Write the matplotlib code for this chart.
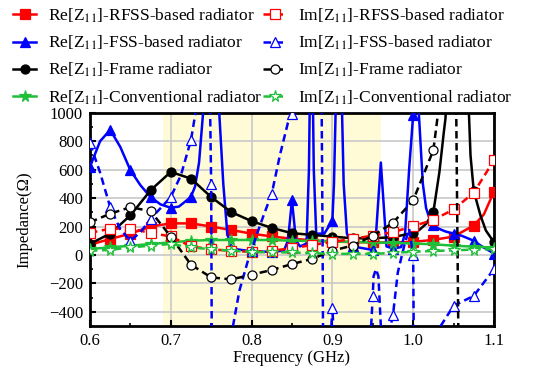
import numpy as np
import matplotlib
matplotlib.use("Agg")
import matplotlib.pyplot as plt
from matplotlib.ticker import MultipleLocator

plt.rcParams['font.family'] = ['Liberation Serif', 'DejaVu Serif']
plt.rcParams['mathtext.fontset'] = 'stix'

# ---------------- data ----------------
f_grid = [0.6, 0.625, 0.65, 0.675, 0.7, 0.725, 0.75, 0.775, 0.8, 0.825, 0.85,
          0.875, 0.9, 0.925, 0.95, 0.975, 1.0, 1.025, 1.05, 1.075, 1.1]

# RFSS-based radiator
f_rfss_re = f_grid[:-1] + [1.0875, 1.1]
re_rfss = [72, 112, 150, 200, 222, 222, 200, 175, 150, 130, 114,
           103, 95, 90, 88, 88, 92, 106, 129, 207, 285, 445]
im_rfss = [155, 185, 185, 155, 130, 60, 40, 28, 22, 30, 47,
           70, 92, 113, 136, 160, 202, 247, 320, 438, 666]

# FSS-based radiator
f_fss_re = [0.6, 0.6125, 0.625, 0.6375, 0.65, 0.6625, 0.675, 0.6875, 0.7, 0.71,
            0.72, 0.725, 0.73, 0.735, 0.74, 0.745, 0.75, 0.755, 0.76, 0.765,
            0.77, 0.775, 0.8, 0.825, 0.84, 0.845, 0.85, 0.855, 0.86, 0.868,
            0.871, 0.873, 0.875, 0.877, 0.88, 0.89, 0.9, 0.902, 0.906, 0.91,
            0.914, 0.918, 0.925, 0.95, 0.953, 0.96, 0.967, 0.975, 0.985, 0.99,
            0.995, 1.0, 1.003, 1.007, 1.012, 1.016, 1.02, 1.025, 1.032, 1.04,
            1.05, 1.06, 1.075, 1.085, 1.1]
re_fss = [620, 800, 880, 760, 596, 490, 407, 355, 332, 340,
          385, 410, 480, 650, 1000, 2000, 3000, 2000, 1000, 500,
          150, 45, 25, 22, 30, 100, 384, 100, 60, 80,
          600, 1500, 1500, 600, 150, 150, 240, 500, 1500, 1500,
          500, 150, 60, 35, 60, 650, 60, 45, 55, 150,
          600, 985, 1400, 1000, 500, 330, 260, 210, 184, 165,
          150, 135, 100, 60, 10]
f_fss_im = [0.6, 0.6125, 0.625, 0.6375, 0.65, 0.6625, 0.675, 0.6875, 0.7, 0.7125,
            0.725, 0.735, 0.745, 0.75, 0.752, 0.76, 0.77, 0.777, 0.785, 0.795,
            0.8, 0.805, 0.815, 0.825, 0.835, 0.845, 0.85, 0.855, 0.875, 0.885,
            0.888, 0.89, 0.897, 0.9, 0.903, 0.91, 0.925, 0.94, 0.948, 0.95,
            0.951, 0.954, 0.957, 0.96, 0.965, 0.972, 0.975, 0.981, 0.989, 0.995,
            1.0, 1.002, 1.02, 1.025, 1.034, 1.05, 1.075, 1.1]
im_fss = [784, 580, 336, 180, 100, 160, 254, 330, 407, 560,
          808, 1150, 2500, 500, -2500, -1500, -800, -500, -250, -50,
          30, 120, 280, 431, 700, 930, 990, 1500, 2500, 2500,
          0, -2500, -700, -370, -700, -1500, -1500, -1500, -500, -288,
          -150, -100, -150, -500, -800, -500, -424, -123, 66, 184,
          0, -1500, -1500, -1200, -500, -358, -288, -100]

# Frame radiator
f_frame_re = f_grid[:17] + [1.0075, 1.016, 1.025, 1.0325, 1.038, 1.04, 1.045,
                            1.05, 1.055, 1.06, 1.065, 1.069, 1.071, 1.075,
                            1.0833, 1.09, 1.1]
re_frame = [78, 150, 278, 455, 584, 537, 407, 301, 238, 190, 153,
            141, 129, 117, 117, 125, 155, 175, 219, 301, 584, 866, 960, 1500,
            2500, 3000, 2500, 1500, 1000, 700, 450, 278, 172, 89]
f_frame_im = f_grid[:18] + [1.03, 1.035, 1.045, 1.05, 1.055, 1.06, 1.07,
                            1.075, 1.08, 1.09, 1.1]
im_frame = [230, 290, 336, 308, 129, -69, -158, -172, -139, -106, -64,
            -28, 30, 66, 135, 226, 384, 737, 961, 1300, 2500, 3000, 0,
            -3000, -1500, -1200, -1000, -800, -650]

# Conventional radiator
re_conv = [42, 53, 65, 77, 88, 100, 105, 105, 105, 105, 100,
           98, 95, 92, 88, 85, 80, 75, 65, 58, 52]
im_conv = [30, 35, 53, 65, 77, 53, 40, 30, 20, 18, 18,
           12, 8, 7, 7, 15, 22, 28, 32, 38, 40]

labels_re = [r'Re[Z$_{11}$]-RFSS-based radiator', r'Re[Z$_{11}$]-FSS-based radiator',
             r'Re[Z$_{11}$]-Frame radiator', r'Re[Z$_{11}$]-Conventional radiator']
labels_im = [r'Im[Z$_{11}$]-RFSS-based radiator', r'Im[Z$_{11}$]-FSS-based radiator',
             r'Im[Z$_{11}$]-Frame radiator', r'Im[Z$_{11}$]-Conventional radiator']

x_ticks = [0.6, 0.7, 0.8, 0.9, 1.0, 1.1]
x_ticklabels = ['0.6', '0.7', '0.8', '0.9', '1.0', '1.1']
y_ticks = [-400, -200, 0, 200, 400, 600, 800, 1000]
band = (0.69, 0.96)

# ---------------- plotting ----------------
RED, BLUE, BLACK, GREEN = '#FF0000', '#0000FF', '#000000', '#1FBF3A'

fig = plt.figure(figsize=(5.44, 3.73), dpi=100)
ax = fig.add_axes([0.1654, 0.126, 0.7426, 0.5716])


def marks(f):
    f = np.asarray(f, dtype=float)
    k = np.round((f - 0.6) / 0.025)
    return list(np.isclose(0.6 + k * 0.025, f, atol=1e-6))


ax.axvspan(band[0], band[1], color='#FFFBD6', zorder=0, lw=0)

lw = 1.8
ms = 6.5
series = [
    (f_rfss_re, re_rfss, RED, '-', 's', True),
    (f_fss_re, re_fss, BLUE, '-', '^', True),
    (f_frame_re, re_frame, BLACK, '-', 'o', True),
    (f_grid, re_conv, GREEN, '-', '*', True),
    (f_grid, im_rfss, RED, '--', 's', False),
    (f_fss_im, im_fss, BLUE, '--', '^', False),
    (f_frame_im, im_frame, BLACK, '--', 'o', False),
    (f_grid, im_conv, GREEN, '--', '*', False),
]
handles = []
for (f, v, c, ls, m, filled), lab in zip(series, labels_re + labels_im):
    msz = ms + 2 if m == '*' else ms
    h, = ax.plot(f, v, color=c, ls=ls, lw=lw, marker=m, ms=msz,
                 markevery=marks(f),
                 mfc=c if filled else 'white', mec=c, mew=0.9,
                 dashes=(3, 1.8) if ls == '--' else (None, None),
                 label=lab, zorder=3)
    handles.append(h)

ax.set_xlim(0.6, 1.1)
ax.set_ylim(-500, 1000)
ax.set_xticks(x_ticks)
ax.set_xticklabels(x_ticklabels)
ax.set_yticks(y_ticks)
ax.xaxis.set_minor_locator(MultipleLocator(0.05))
ax.yaxis.set_minor_locator(MultipleLocator(100))
ax.grid(True, which='major', color='#C8C8C8', lw=1.2, zorder=1)
ax.set_axisbelow(True)
ax.tick_params(which='major', direction='in', length=4, width=1.5, labelsize=12,
               pad=5)
ax.tick_params(which='minor', direction='in', length=2, width=1.2)
for s in ax.spines.values():
    s.set_linewidth(2.0)
ax.set_xlabel('Frequency (GHz)', fontsize=12, labelpad=1)
ax.set_ylabel('Impedance(\u03a9)', fontsize=12, labelpad=12)

fig.legend(handles=handles, loc='upper left', bbox_to_anchor=(0.012, 1.002),
           ncol=2, frameon=False, fontsize=12.5, handlelength=1.3,
           handletextpad=0.7, columnspacing=0.05, labelspacing=0.52,
           borderaxespad=0.0)

fig.savefig('out.png', dpi=100)
